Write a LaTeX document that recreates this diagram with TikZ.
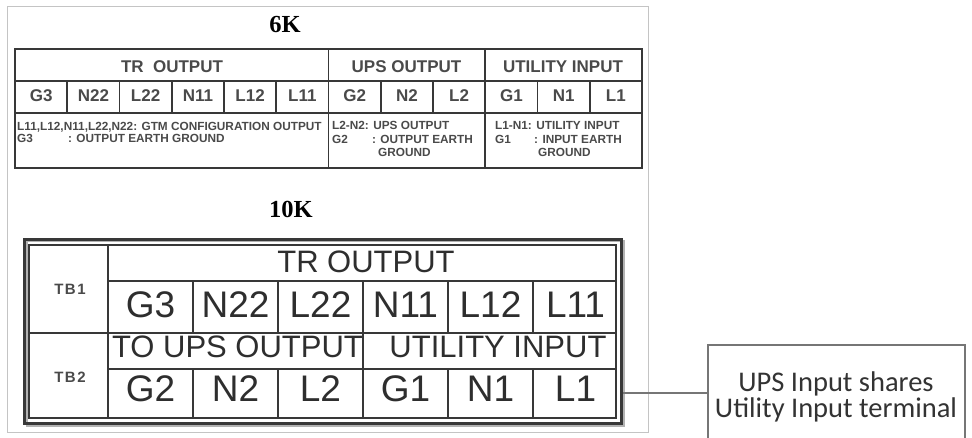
\documentclass[tikz,border=0pt]{standalone}
\usepackage{fontspec}
\setmainfont{Liberation Sans}
\newfontfamily\titlefont{Liberation Serif}
\newfontfamily\callfont{Carlito}
\newfontfamily\tbfont[LetterSpace=10]{Liberation Sans}
\definecolor{ln}{HTML}{383838}
\definecolor{txsix}{HTML}{4A4A4A}
\definecolor{txten}{HTML}{2E2E2E}
\definecolor{frm}{HTML}{C4C4C4}
\definecolor{callln}{HTML}{767676}
\definecolor{calltx}{HTML}{333333}
\begin{document}
\begin{tikzpicture}[x=1pt,y=-1pt,
  title/.style={font=\titlefont\bfseries\fontsize{24.5}{24.5}\selectfont, text=black, inner sep=0pt, anchor=base},
  sixh/.style={font=\bfseries\fontsize{17}{17}\selectfont, text=txsix, inner sep=0pt, anchor=base},
  sixd/.style={font=\bfseries\fontsize{11.8}{11.8}\selectfont, text=txsix, inner sep=0pt, anchor=base west},
  tenh/.style={font=\fontsize{31}{31}\selectfont, text=txten, inner sep=0pt, anchor=base},
  tenc/.style={font=\fontsize{37}{37}\selectfont, text=txten, inner sep=0pt, anchor=base},
  tbl/.style={font=\tbfont\bfseries\fontsize{15}{15}\selectfont, text=txsix, inner sep=0pt, anchor=base},
  calltext/.style={font=\callfont\fontsize{28.5}{26}\selectfont, text=calltx, inner sep=0pt, anchor=base},
  grid6/.style={draw=ln, line width=1.6pt},
  grid10/.style={draw=ln, line width=1.8pt}
]
\useasboundingbox (0,0) rectangle (972,438);
% figure frame
\draw[frm, line width=1pt] (7,7) rectangle (648,432);

% ---------------- 6K ----------------
\node[title] (t6) at (285,33) {6K};
\draw[grid6, line width=2.2pt] (15,49) rectangle (642,168);
\draw[grid6] (15,81) -- (642,81);
\draw[grid6] (15,113) -- (642,113);
\foreach \k in {1,...,11} {
  \draw[grid6] ({15+52.25*\k},81) -- ({15+52.25*\k},113);
}
\foreach \k in {6,9} {
  \draw[grid6] ({15+52.25*\k},49) -- ({15+52.25*\k},168);
}
\node[sixh] (h6a) at (172,73) {TR\ \ OUTPUT};
\node[sixh] (h6b) at (406.5,73) {UPS OUTPUT};
\node[sixh] (h6c) at (563,73) {UTILITY INPUT};
\foreach \lab [count=\i from 0] in {G3,N22,L22,N11,L12,L11,G2,N2,L2,G1,N1,L1} {
  \node[sixh] (c6-\i) at ({15+52.25*(\i+0.5)},102) {\lab};
}
\node[sixd] (d6a) at (17,131) {L11,L12,N11,L22,N22: GTM CONFIGURATION OUTPUT};
\node[sixd] (d6b) at (17,143) {G3};
\node[sixd] (d6c) at (68,143) {: OUTPUT EARTH GROUND};
\node[sixd] (d6d) at (332,130) {L2-N2: UPS OUTPUT};
\node[sixd] (d6e) at (332,144) {G2};
\node[sixd] (d6f) at (372,144) {: OUTPUT EARTH};
\node[sixd] (d6g) at (378,157) {GROUND};
\node[sixd] (d6h) at (495,130) {L1-N1: UTILITY INPUT};
\node[sixd] (d6i) at (495,144) {G1};
\node[sixd] (d6j) at (534,144) {: INPUT EARTH};
\node[sixd] (d6k) at (538,157) {GROUND};

% ---------------- 10K ----------------
\node[title] (t10) at (291,218) {10K};
\draw[draw=gray!60, line width=2pt] (26.5,241.5) rectangle (623.5,425.5);
\draw[grid10, line width=2.6pt] (24.5,239.5) rectangle (621.5,423.5);
\draw[grid10, line width=1.6pt] (29,245) rectangle (616,418);
\draw[grid10] (29,333) -- (616,333);
\draw[grid10] (108,245) -- (108,418);
\draw[grid10] (108,281) -- (616,281);
\draw[grid10] (108,369) -- (616,369);
\foreach \k in {1,...,5} {
  \draw[grid10] ({108+85*\k},281) -- ({108+85*\k},333);
  \draw[grid10] ({108+85*\k},369) -- ({108+85*\k},418);
}
\draw[grid10] (363,333) -- (363,369);
\node[tbl] (tb1) at (70,295) {TB1};
\node[tbl] (tb2) at (70,382) {TB2};
\node[tenh] (h10a) at (366,273) {TR OUTPUT};
\node[tenh] (h10b) at (237.5,357) {TO UPS OUTPUT};
\node[tenh] (h10c) at (498,357) {UTILITY INPUT};
\foreach \lab [count=\i from 0] in {G3,N22,L22,N11,L12,L11} {
  \node[tenc] (r1-\i) at ({108+85*(\i+0.5)},318) {\lab};
}
\foreach \lab [count=\i from 0] in {G2,N2,L2,G1,N1,L1} {
  \node[tenc] (r2-\i) at ({108+85*(\i+0.5)},401) {\lab};
}

% ---------------- callout ----------------
\coordinate (tenR) at (623,393);
\node[draw=callln, line width=1.8pt, minimum width=257pt, minimum height=140pt, anchor=north west, inner sep=0pt] (callout) at (707,344) {};
\draw[callln, line width=1.4pt] (tenR) -- (tenR -| callout.west);
\node[calltext] (ct1) at (836,391) {UPS Input shares};
\node[calltext] (ct2) at (836,417) {Utility Input terminal};
\end{tikzpicture}
\end{document}
